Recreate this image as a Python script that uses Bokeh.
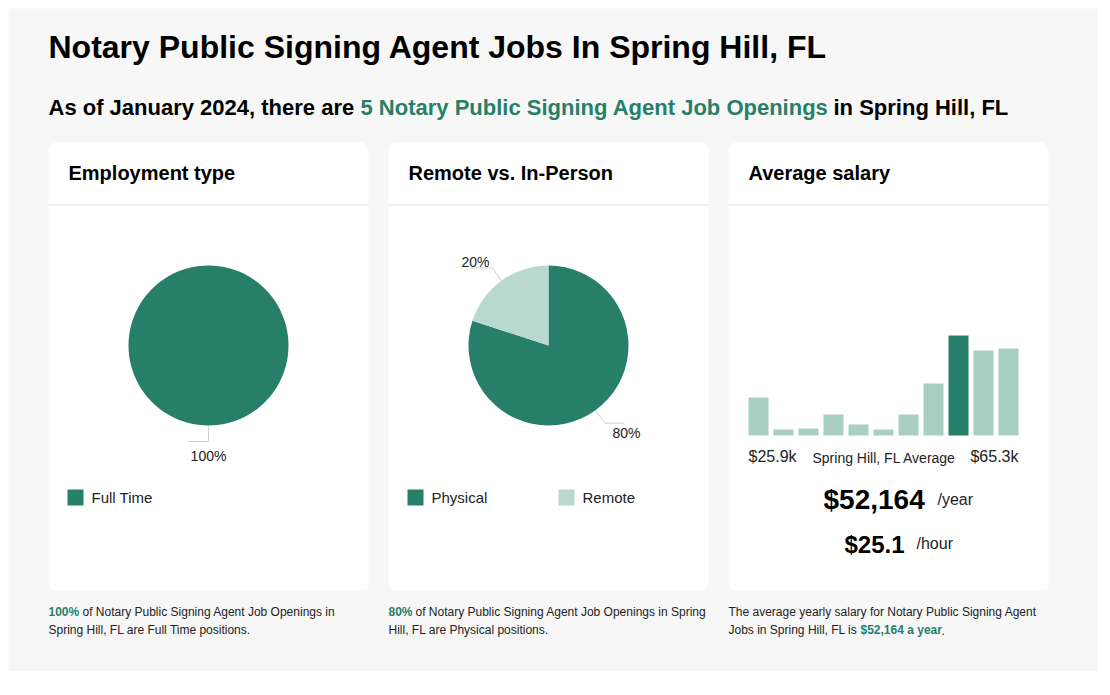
import numpy as np
from bokeh.plotting import figure
from bokeh.models import Range1d, BoxAnnotation
from bokeh.core.properties import value
from bokeh.embed import file_html
from bokeh.resources import INLINE

# ---------------- data ----------------
job_title = "Notary Public Signing Agent"
place = "Spring Hill, FL"
as_of = "January 2024"
openings = 5

emp_labels = ["Full Time"]
emp_shares = [100]

work_labels = ["Physical", "Remote"]
work_shares = [80, 20]

salary_bins = list(range(11))
salary_counts = [38, 6, 7, 21, 11, 6, 21, 52, 100, 85, 87]
highlight_bin = 8
salary_min_label = "$25.9k"
salary_max_label = "$65.3k"
avg_year = "$52,164"
avg_hour = "$25.1"

# ---------------- style ----------------
DARK = "#277f6a"
LIGHT = "#b9d8ce"
BAR_LIGHT = "#a9cec2"
TXT = "#222222"
FONT = "Liberation Sans"
W, H = 1098, 671


def Y(v):
    return 695 - v


p = figure(width=W, height=H, x_range=Range1d(0, W), y_range=Range1d(Y(H), Y(0)),
           output_backend="svg", toolbar_location=None, min_border=0,
           x_axis_location=None, y_axis_location=None)
p.grid.visible = False
p.outline_line_color = None
p.background_fill_color = "white"
p.border_fill_color = "white"

p.add_layout(BoxAnnotation(left=8, right=1098, top=Y(8), bottom=Y(671),
                           fill_color="#f7f7f7", fill_alpha=1.0, line_color=None,
                           level="underlay"))


def txt(x, y, s, size, color="#000000", bold=False, align="left"):
    # y is the alphabetic baseline (page pixels); anchor on the em-box middle
    p.text(x=[x], y=[Y(y - 0.3465 * size)], text=[s], text_font=value(FONT),
           text_font_size=f"{size}px", text_color=color,
           text_font_style="bold" if bold else "normal",
           text_align=align, text_baseline="middle")


# titles
txt(48, 58, f"{job_title} Jobs In {place}", 32, bold=True)
txt(48, 115, f"As of {as_of}, there are", 22, bold=True)
txt(360, 115, f"{openings} {job_title} Job Openings", 22, color=DARK, bold=True)
txt(833, 115, f"in {place}", 22, bold=True)

# cards
card_lefts = [48, 388, 728]
card_titles = ["Employment type", "Remote vs. In-Person", "Average salary"]
for cl, ct in zip(card_lefts, card_titles):
    p.add_layout(BoxAnnotation(left=cl, right=cl + 320, top=Y(142), bottom=Y(590),
                               fill_color="white", fill_alpha=1.0, line_color=None,
                               border_radius=8, level="underlay"))
    p.segment(x0=[cl], x1=[cl + 320], y0=[Y(204.5)], y1=[Y(204.5)],
              line_color="#e4e4e4", line_width=1)
    txt(cl + 20, 179, ct, 20, bold=True)


# pies
def pie(cx, cy, r, shares, colors, label_pos):
    frac = np.array(shares, dtype=float) / 100.0
    cum = np.concatenate([[0.0], np.cumsum(frac)])
    starts = np.pi / 2 - 2 * np.pi * cum[:-1]
    ends = np.pi / 2 - 2 * np.pi * np.minimum(cum[1:], 0.99999)
    p.wedge(x=[cx] * len(shares), y=[Y(cy)] * len(shares), radius=r,
            start_angle=list(starts), end_angle=list(ends), direction="clock",
            fill_color=colors, line_color=None)
    mids = np.pi / 2 - 2 * np.pi * (cum[:-1] + cum[1:]) / 2
    for m, s, (lx, ly, hx) in zip(mids, shares, label_pos):
        x0, y0 = cx + r * np.cos(m), cy - r * np.sin(m)
        x1, y1 = cx + (r + 16) * np.cos(m), cy - (r + 16) * np.sin(m)
        p.line(x=[x0, x1, hx], y=[Y(y0), Y(y1), Y(y1)], line_color="#cfcfcf", line_width=1)
        txt(lx, ly, f"{s}%", 14, color=TXT, align="center")


pie(208, 345, 80, emp_shares, [DARK], [(208, 460, 188)])
pie(548, 345, 80, work_shares, [DARK, LIGHT], [(626, 437, 623), (475, 266, 470)])

# legends
for lx, lab, col in zip([67], emp_labels, [DARK]):
    p.quad(left=[lx], right=[lx + 16], top=[Y(489)], bottom=[Y(505)], fill_color=col, line_color=None)
    txt(lx + 24, 502, lab, 15, color=TXT)
for lx, lab, col in zip([407, 558], work_labels, [DARK, LIGHT]):
    p.quad(left=[lx], right=[lx + 16], top=[Y(489)], bottom=[Y(505)], fill_color=col, line_color=None)
    txt(lx + 24, 502, lab, 15, color=TXT)

# salary histogram (own ranges mapped onto the card area)
p.extra_x_ranges = {"bars": Range1d(-758 / 25, (W - 758) / 25)}
p.extra_y_ranges = {"bars": Range1d(Y(H) - 260, Y(0) - 260)}
bar_colors = [DARK if i == highlight_bin else BAR_LIGHT for i in salary_bins]
p.vbar(x=salary_bins, top=salary_counts, bottom=0, width=0.8, fill_color=bar_colors,
       line_color=None, x_range_name="bars", y_range_name="bars")

txt(748, 462, salary_min_label, 16, color=TXT)
txt(812, 462, f"{place} Average", 14, color=TXT)
txt(1018, 462, salary_max_label, 16, color=TXT, align="right")

txt(823, 509, avg_year, 28, bold=True)
txt(937, 505, "/year", 16, color=TXT)
txt(844, 552, avg_hour, 24, bold=True)
txt(916, 549, "/hour", 16, color=TXT)

# footnotes
txt(48, 616, f"{emp_shares[0]}%", 12, color=DARK, bold=True)
txt(82, 616, f"of {job_title} Job Openings in", 12, color=TXT)
txt(48, 634, f"{place} are {emp_labels[0]} positions.", 12, color=TXT)

txt(388, 616, f"{work_shares[0]}%", 12, color=DARK, bold=True)
txt(415, 616, f"of {job_title} Job Openings in Spring", 12, color=TXT)
txt(388, 634, f"Hill, FL are {work_labels[0]} positions.", 12, color=TXT)

txt(728, 616, f"The average yearly salary for {job_title}", 12, color=TXT)
txt(728, 634, f"Jobs in {place} is", 12, color=TXT)
txt(860, 634, f"{avg_year} a year", 12, color=DARK, bold=True)
txt(941, 634, ".", 12, color=TXT)

open("out.html", "w").write(file_html(p, INLINE))
